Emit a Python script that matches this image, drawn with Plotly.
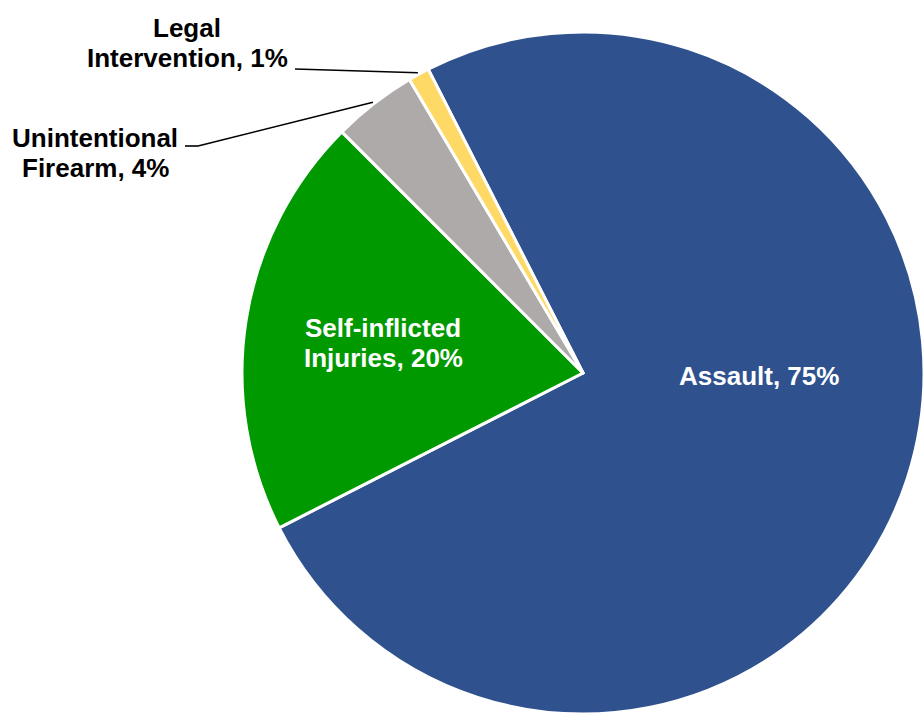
import math
import plotly.graph_objects as go

# Firearm injury deaths by intent (percent of total)
labels = ["Assault", "Self-inflicted Injuries", "Unintentional Firearm", "Legal Intervention"]
values = [75, 20, 4, 1]
label_lines = [["Assault"], ["Self-inflicted", "Injuries"], ["Unintentional", "Firearm"], ["Legal", "Intervention"]]
colors = ["#2F528F", "#009900", "#AEAAAA", "#FFD966"]
inside = [True, True, False, False]

W, H = 924, 717
FONT = "Arial, 'Liberation Sans', sans-serif"
FONT_SIZE = 26
LINE_GAP = 30
ROTATION = -27  # degrees clockwise from 12 o'clock where the first slice starts

# pie box in pixels (left edge and vertical centre), radius follows from the width
left_px, cy = 242, 373
R = (W - left_px) / 2
cx = (W + left_px) / 2

# label block centres (px) and where outside leader lines leave the text
label_pos = [(759, 376), (383, 343), (95, 153.5), (187, 43)]
leader_start = {2: [(185, 146), (198, 146)], 3: [(295, 69)]}


def px(x, y):
    return x / W, 1 - y / H


fig = go.Figure(go.Pie(
    labels=labels,
    values=values,
    sort=False,
    direction="clockwise",
    rotation=ROTATION,
    marker=dict(colors=colors, line=dict(color="white", width=3)),
    textinfo="none",
    hoverinfo="label+percent",
    showlegend=False,
    domain=dict(x=[left_px / W, 1.0], y=[1 - (cy + R) / H, 1 - (cy - R) / H]),
))

annotations = []
shapes = []
total = sum(values)
start = ROTATION
for i, (lines, v) in enumerate(zip(label_lines, values)):
    span = 360 * v / total
    mid = math.radians(start + span / 2)
    start += span

    text_lines = lines[:-1] + [f"{lines[-1]}, {v}%"]
    lx, ly = label_pos[i]
    n = len(text_lines)
    for k, t in enumerate(text_lines):
        yy = ly + (k - (n - 1) / 2) * LINE_GAP
        x, y = px(lx, yy)
        annotations.append(dict(
            x=x, y=y, xref="paper", yref="paper", text=t, showarrow=False,
            xanchor="center", yanchor="middle",
            font=dict(family=FONT, size=FONT_SIZE, weight="bold",
                      color="white" if inside[i] else "black"),
        ))

    if not inside[i]:
        # leader line runs from the label to the rim of its slice
        end = (cx + R * 1.005 * math.sin(mid), cy - R * 1.005 * math.cos(mid))
        pts = leader_start[i] + [end]
        for a, b in zip(pts[:-1], pts[1:]):
            x0, y0 = px(*a)
            x1, y1 = px(*b)
            shapes.append(dict(type="line", xref="paper", yref="paper",
                               x0=x0, y0=y0, x1=x1, y1=y1,
                               line=dict(color="black", width=1.6)))

fig.update_layout(
    width=W, height=H,
    margin=dict(l=0, r=0, t=0, b=0),
    paper_bgcolor="white",
    plot_bgcolor="white",
    annotations=annotations,
    shapes=shapes,
)

fig.write_html("out.html")
